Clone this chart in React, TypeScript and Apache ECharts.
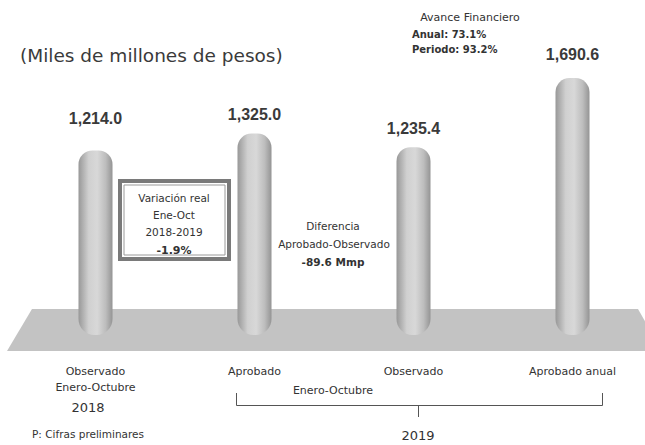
import React, { useEffect, useRef } from "react";
import * as echarts from "echarts";

const categories = ["Observado\nEnero-Octubre", "Aprobado", "Observado", "Aprobado anual"];
const values = [1214.0, 1325.0, 1235.4, 1690.6];
const yearLeft = "2018";
const yearRight = "2019";
const periodLabel = "Enero-Octubre";
const titleText = "(Miles de millones de pesos)";
const avanceLines = ["Avance Financiero", "Anual: 73.1%", "Periodo: 93.2%"];
const variacionLines = ["Variación real", "Ene-Oct", "2018-2019", "-1.9%"];
const diferenciaLines = ["Diferencia", "Aprobado-Observado", "-89.6 Mmp"];
const footnote = "P: Cifras preliminares";

const LABEL_DIST = [24, 11, 11, 16];
const FONT = "'DejaVu Sans', sans-serif";
const NUM_FONT = "'Liberation Sans', Arial, sans-serif";

const fmt = (v: number) =>
  v.toLocaleString("en-US", { minimumFractionDigits: 1, maximumFractionDigits: 1 });

export default function App() {
  const ref = useRef<HTMLDivElement>(null);
  useEffect(() => {
    if (!ref.current) return;
    const chart = echarts.init(ref.current, undefined, { renderer: "svg" });
    const barColor = new echarts.graphic.LinearGradient(0, 0, 1, 0, [
      { offset: 0, color: "#989898" },
      { offset: 0.3, color: "#d0d0d0" },
      { offset: 0.55, color: "#d8d8d8" },
      { offset: 0.8, color: "#bdbdbd" },
      { offset: 1, color: "#949494" },
    ]);
    const txt = (text: string, x: number, y: number, size: number, opts: any = {}) => ({
      type: "text",
      x,
      y,
      z: 100,
      style: {
        text,
        fontSize: size,
        fontFamily: FONT,
        fill: "#333",
        textAlign: "center",
        textVerticalAlign: "middle",
        ...opts,
      },
    });
    const option: any = {
      animation: false,
      backgroundColor: "#ffffff",
      grid: {
        left: 16,
        width: 636,
        top: 61.4,
        height: 273.6,
        outerBoundsMode: "none",
        containLabel: false,
      },
      xAxis: {
        type: "category",
        data: categories,
        axisLine: { show: false },
        axisTick: { show: false },
        axisLabel: {
          margin: 28,
          fontFamily: FONT,
          fontSize: 11,
          color: "#333",
          lineHeight: 16,
          verticalAlign: "top",
          interval: 0,
        },
      },
      yAxis: {
        type: "value",
        min: 0,
        max: 1800,
        show: false,
        splitLine: { show: false },
      },
      series: [
        {
          type: "bar",
          z: 5,
          barWidth: 34,
          data: values.map((v, i) => ({
            value: v,
            label: { distance: LABEL_DIST[i] },
          })),
          itemStyle: {
            color: barColor,
            borderRadius: [14, 14, 16, 16],
          },
          label: {
            show: true,
            position: "top",
            formatter: (p: any) => fmt(p.value),
            fontFamily: NUM_FONT,
            fontWeight: "bold",
            fontSize: 16,
            color: "#3a3a3a",
          },
        },
      ],
      graphic: [
        {
          type: "polygon",
          z: 0,
          shape: { points: [[32, 309], [638, 309], [662, 351], [7, 351]] },
          style: { fill: "#c3c3c3" },
        },
        txt(titleText, 20, 55, 18.5, { textAlign: "left", fill: "#3a3a3a" }),
        txt(avanceLines[0], 470, 17, 11),
        txt(avanceLines[1], 412, 34, 10, { textAlign: "left", fontWeight: "bold" }),
        txt(avanceLines[2], 412, 49, 10, { textAlign: "left", fontWeight: "bold" }),
        {
          type: "rect",
          z: 90,
          shape: { x: 120, y: 181, width: 109, height: 78 },
          style: { fill: "#ffffff", stroke: "#7a7a7a", lineWidth: 4 },
        },
        {
          type: "rect",
          z: 91,
          shape: { x: 124, y: 185, width: 101, height: 70 },
          style: { fill: "none", stroke: "#9a9a9a", lineWidth: 1 },
        },
        txt(variacionLines[0], 174, 198, 10.5),
        txt(variacionLines[1], 174, 215, 10.5),
        txt(variacionLines[2], 174, 232, 10.5),
        txt(variacionLines[3], 174, 250, 11, { fontWeight: "bold" }),
        txt(diferenciaLines[0], 333, 226, 10.5),
        txt(diferenciaLines[1], 334, 244, 10.5),
        txt(diferenciaLines[2], 333, 262, 10.5, { fontWeight: "bold" }),
        txt(yearLeft, 88, 407, 13),
        txt(footnote, 88, 434, 10.5),
        txt(periodLabel, 333, 390, 11),
        {
          type: "polyline",
          z: 50,
          shape: { points: [[236.5, 393], [236.5, 405.5], [602.5, 405.5], [602.5, 393]] },
          style: { stroke: "#555", lineWidth: 1, fill: "none" },
        },
        {
          type: "line",
          z: 50,
          shape: { x1: 418.5, y1: 405.5, x2: 418.5, y2: 417 },
          style: { stroke: "#555", lineWidth: 1 },
        },
        txt(yearRight, 418, 435, 13),
      ],
    };
    chart.setOption(option);
    return () => chart.dispose();
  }, []);
  return (
    <div
      ref={ref}
      style={{ position: "fixed", left: 0, top: 0, width: 645, height: 445, background: "#fff" }}
    />
  );
}
